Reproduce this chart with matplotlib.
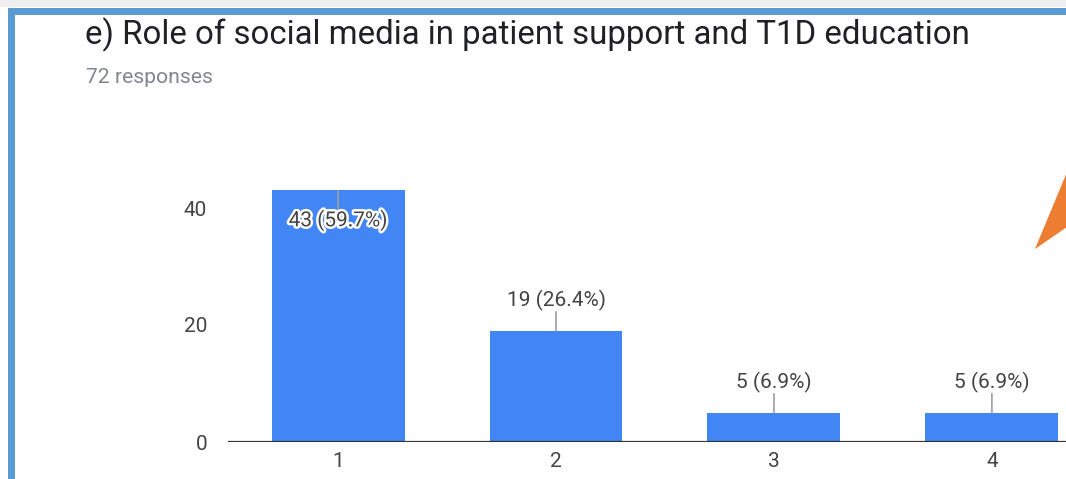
import matplotlib
matplotlib.use("Agg")
import matplotlib.pyplot as plt
import matplotlib.patheffects as pe
from matplotlib.patches import Rectangle, Polygon

plt.rcParams['font.family'] = ['Roboto', 'DejaVu Sans']

# Survey data
title = "e) Role of social media in patient support and T1D education"
subtitle = "72 responses"
categories = [1, 2, 3, 4]
counts = [43, 19, 5, 5]
total_responses = 72
y_ticks = [0, 20, 40]

W, H = 1066, 479
fig = plt.figure(figsize=(W / 100, H / 100), dpi=100)
fig.patch.set_facecolor('white')

# Pixel-space canvas for the card frame, titles and the callout arrow tip
bg = fig.add_axes([0, 0, 1, 1], zorder=0)
bg.set_xlim(0, W)
bg.set_ylim(H, 0)
bg.axis('off')
bg.add_patch(Rectangle((0, 0), W, 7, color='#efefef', lw=0))
bg.add_patch(Rectangle((8, 8), W - 8, 6.5, color='#5b9bd5', lw=0))
bg.add_patch(Rectangle((8, 8), 6.5, H - 8, color='#5b9bd5', lw=0))
bg.text(85, 44, title, fontsize=23.8, color='#202124', va='baseline', ha='left')
bg.text(86, 83, subtitle, fontsize=15.2, color='#80868b', va='baseline', ha='left')

# Bar chart
ax0, ay0 = 228, 442
px_per_unit_y = 5.85
y_top = 50
ax = fig.add_axes([ax0 / W, (H - ay0) / H, (W - ax0) / W, (y_top * px_per_unit_y) / H], zorder=1)
ax.patch.set_visible(False)
ax.set_xlim(0.495, 4.34)
ax.set_ylim(0, y_top)

ax.bar(categories, counts, width=0.61, color='#4285f4', zorder=2)
ax.axhline(0, color='#333333', lw=1.6, zorder=3)

for spine in ax.spines.values():
    spine.set_visible(False)
ax.set_yticks(y_ticks)
ax.set_xticks(categories)
ax.set_xticklabels([str(c) for c in categories])
ax.tick_params(axis='y', length=0, pad=15, labelsize=15, labelcolor='#444444')
ax.tick_params(axis='x', length=0, pad=7, labelsize=15, labelcolor='#444444')

halo = [pe.withStroke(linewidth=3.5, foreground='white')]
for x, v in zip(categories, counts):
    label = f"{v} ({v / total_responses * 100:.1f}%)"
    inside = v > 40
    direction = -1 if inside else 1
    ax.annotate('', xy=(x, v), xytext=(0, 19 * direction), textcoords='offset pixels',
                arrowprops=dict(arrowstyle='-', color='#9e9e9e', lw=1.2,
                                shrinkA=0, shrinkB=0), zorder=4)
    txt = ax.annotate(label, xy=(x, v), xytext=(0, 30 * direction), textcoords='offset pixels',
                      ha='center', va='center', fontsize=15, color='#444444', zorder=5)
    if inside:
        txt.set_path_effects(halo)

# Orange callout arrow tip at the right edge
overlay = fig.add_axes([0, 0, 1, 1], zorder=2)
overlay.set_xlim(0, W)
overlay.set_ylim(H, 0)
overlay.axis('off')
overlay.add_patch(Polygon([(1035, 249), (1067, 172), (1067, 227)], closed=True,
                          color='#ed7d31', lw=0))

fig.savefig('out.png', dpi=100)
